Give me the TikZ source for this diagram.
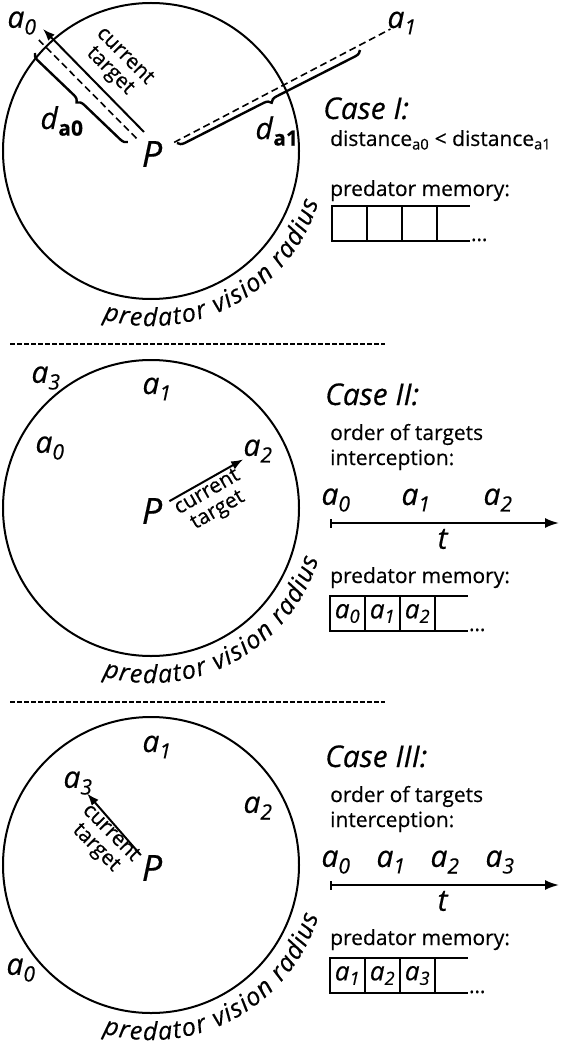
\documentclass[tikz,border=0pt]{standalone}
\usepackage{fontspec}
\setmainfont{Open Sans}[FakeBold=0.4]
\usetikzlibrary{arrows.meta,positioning,calc,decorations.pathreplacing,decorations.text}

\newcommand{\prey}[1]{\textit{a\textsubscript{#1}}}
\newcommand{\dist}[1]{\textit{d}\textsubscript{\upshape\bfseries #1}}

\tikzset{
  visioncircle/.style={line width=2pt},
  predator/.style={font=\itshape\fontsize{36}{36}\selectfont, inner sep=0pt},
  preylbl/.style={font=\fontsize{30}{30}\selectfont, inner sep=0pt},
  sightline/.style={line width=1.6pt, dash pattern=on 7pt off 4pt},
  targetarrow/.style={line width=2pt, -{Latex[length=12pt,width=9pt]}},
  targettext/.style={font=\fontsize{21}{21}\selectfont, align=center, inner sep=0pt},
  distbrace/.style={decorate, decoration={brace, amplitude=7pt, mirror}, line width=2.4pt},
  casetitle/.style={font=\itshape\fontsize{30}{30}\selectfont, anchor=base west, inner sep=0pt},
  bodytext/.style={font=\fontsize{21}{25}\selectfont, anchor=base west, inner sep=0pt},
  memcell/.style={draw, line width=2pt, minimum width=35pt, minimum height=35pt,
    inner sep=0pt, outer sep=0pt, font=\fontsize{26}{26}\selectfont},
  memline/.style={line width=2pt},
  timeaxis/.style={line width=2pt, {Bar[width=9pt]}-{Latex[length=14pt,width=10pt]}},
  separator/.style={line width=1.6pt, dash pattern=on 4.5pt off 2.5pt},
  radiustext/.style={decorate, decoration={text along path, text align={fit to path},
    text={|\itshape\fontsize{25}{25}\selectfont|predator vision radius}}}
}

\begin{document}
\begin{tikzpicture}[x=1pt,y=1pt]
  \useasboundingbox (0,0) rectangle (563,-1048);

  % ---- Case I (top) ------------------------------------------
  % Vision circle
  \draw[visioncircle] (151,-151) circle (148);
  \path[radiustext] (151,-151) ++(254:175) arc[start angle=254, end angle=343, radius=175];
  % Predator and prey
  \node[predator] (P1) at (152,-154) {P};
  \node[preylbl] (a10) at (22,-23) {\prey{0}};
  \node[preylbl] (a11) at (402,-23) {\prey{1}};
  % Sight lines
  \draw[sightline, shorten <=22pt, shorten >=24pt] (P1.center) -- (a10.center);
  \draw[sightline, shorten <=25pt, shorten >=13pt] (P1.center) -- (a11.center);
  % Current target
  \coordinate (ct1s) at (144,-132);
  \coordinate (ct1e) at (43,-29);
  \draw[targetarrow] (ct1s) -- (ct1e);
  \node[targettext, rotate=-45] (ct1) at (117,-64) {current\\target};
  % Distances
  \coordinate (br10s) at (35,-53);
  \coordinate (br10e) at (128,-142);
  \draw[distbrace] (br10s) -- (br10e);
  \node[preylbl] (d10) at (62,-121) {\dist{a0}};
  \coordinate (br11s) at (177,-143);
  \coordinate (br11e) at (360,-50);
  \draw[distbrace] (br11s) -- (br11e);
  \node[preylbl] (d11) at (277,-131) {\dist{a1}};

  % Text and memory
  \node[casetitle] (case1) at (323,-119) {Case I:};
  \node[bodytext] (rule1) at (330,-146)
    {distance\textsubscript{a0} < distance\textsubscript{a1}};
  \node[bodytext] (mem1) at (330,-196) {predator memory:};
  \node[memcell] (m11) at (349.5,-223.5) {};
  \node[memcell, right=0pt of m11] (m12) {};
  \node[memcell, right=0pt of m12] (m13) {};
  \draw[memline] (m13.north east) -- ++(33,0);
  \draw[memline] (m13.south east) -- ++(33,0)
    node[bodytext, anchor=base west] (dots1) {\ldots};

  \draw[separator] (10,-344) -- (385,-344);

  % ---- Case II (middle) --------------------------------------
  \draw[visioncircle] (151,-508) circle (148);
  \path[radiustext] (151,-508) ++(254:175) arc[start angle=254, end angle=343, radius=175];
  \node[predator] (P2) at (152,-511) {P};
  \node[preylbl] (a23) at (46,-378) {\prey{3}};
  \node[preylbl] (a21) at (157,-389) {\prey{1}};
  \node[preylbl] (a20) at (50,-448) {\prey{0}};
  \node[preylbl] (a22) at (258,-451) {\prey{2}};
  \draw[targetarrow, shorten <=20pt, shorten >=17pt] (P2.center) -- (a22.center);
  \node[targettext, rotate=30] (ct2) at (213,-502) {current\\target};

  % Text, time line and memory
  \node[casetitle] (case2) at (325,-405) {Case II:};
  \node[bodytext] (ord2) at (330,-440) {order of targets};
  \node[bodytext] (int2) at (330,-465) {interception:};
  \node[preylbl] (t20) at (336,-500) {\prey{0}};
  \node[preylbl] (t21) at (416,-500) {\prey{1}};
  \node[preylbl] (t22) at (498,-500) {\prey{2}};
  \coordinate (ax2s) at (330,-523);
  \coordinate (ax2e) at (559,-523);
  \draw[timeaxis] (ax2s) -- (ax2e);
  \node[preylbl] (tt2) at (443,-539) {\textit{t}};
  \node[bodytext] (mem2) at (330,-583) {predator memory:};
  \node[memcell] (m21) at (347.5,-613.5) {\prey{0}};
  \node[memcell, right=0pt of m21] (m22) {\prey{1}};
  \node[memcell, right=0pt of m22] (m23) {\prey{2}};
  \draw[memline] (m23.north east) -- ++(33,0);
  \draw[memline] (m23.south east) -- ++(33,0)
    node[bodytext, anchor=base west] (dots2) {\ldots};

  \draw[separator] (10,-702) -- (385,-702);

  % ---- Case III (bottom) -------------------------------------
  \draw[visioncircle] (151,-865) circle (148);
  \path[radiustext] (151,-865) ++(254:175) arc[start angle=254, end angle=343, radius=175];
  \node[predator] (P3) at (152,-868) {P};
  \node[preylbl] (a31) at (157,-747) {\prey{1}};
  \node[preylbl] (a33) at (78,-783) {\prey{3}};
  \node[preylbl] (a32) at (258,-808) {\prey{2}};
  \node[preylbl] (a30) at (21,-970) {\prey{0}};
  \draw[targetarrow, shorten <=17pt, shorten >=14pt] (P3.center) -- (a33.center);
  \node[targettext, rotate=-45] (ct3) at (103,-841) {current\\target};

  % Text, time line and memory
  \node[casetitle] (case3) at (325,-767) {Case III:};
  \node[bodytext] (ord3) at (330,-802) {order of targets};
  \node[bodytext] (int3) at (330,-827) {interception:};
  \node[preylbl] (t30) at (336,-862) {\prey{0}};
  \node[preylbl] (t31) at (391,-862) {\prey{1}};
  \node[preylbl] (t32) at (445,-862) {\prey{2}};
  \node[preylbl] (t33) at (500,-862) {\prey{3}};
  \coordinate (ax3s) at (330,-885);
  \coordinate (ax3e) at (559,-885);
  \draw[timeaxis] (ax3s) -- (ax3e);
  \node[preylbl] (tt3) at (443,-901) {\textit{t}};
  \node[bodytext] (mem3) at (330,-945) {predator memory:};
  \node[memcell] (m31) at (347.5,-975.5) {\prey{1}};
  \node[memcell, right=0pt of m31] (m32) {\prey{2}};
  \node[memcell, right=0pt of m32] (m33) {\prey{3}};
  \draw[memline] (m33.north east) -- ++(33,0);
  \draw[memline] (m33.south east) -- ++(33,0)
    node[bodytext, anchor=base west] (dots3) {\ldots};

\end{tikzpicture}
\end{document}
